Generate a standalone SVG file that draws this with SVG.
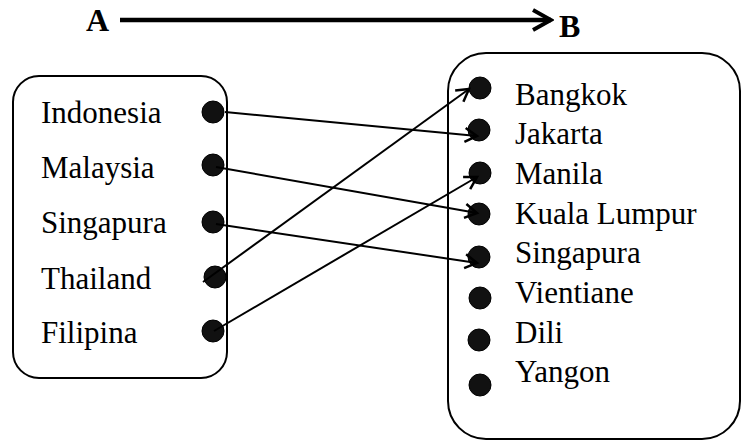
<svg xmlns="http://www.w3.org/2000/svg" width="742" height="441" viewBox="0 0 742 441">
<style>
  .box { fill: #fff; stroke: #000; stroke-width: 2; }
  .dot { fill: #111; stroke: #000; stroke-width: 1; }
  .lbl { font-family: "Liberation Serif", "Times New Roman", serif; font-size: 31px; fill: #000; }
  .hdr { font-family: "Liberation Serif", "Times New Roman", serif; font-size: 32px; font-weight: bold; fill: #000; }
  .conn { fill: none; stroke: #000; stroke-width: 2; }
</style>
<defs>
  <marker id="open" markerWidth="18" markerHeight="18" refX="15" refY="9" orient="auto" markerUnits="userSpaceOnUse">
    <path d="M3,2 L15,9 L3,16" fill="none" stroke="#000" stroke-width="2.5"/>
  </marker>
  <marker id="bigopen" markerWidth="24" markerHeight="26" refX="21" refY="13" orient="auto" markerUnits="userSpaceOnUse">
    <path d="M3,3 L21,13 L3,23" fill="none" stroke="#000" stroke-width="4"/>
  </marker>
</defs>

<g id="header">
  <text class="hdr" x="86" y="31">A</text>
  <line x1="120" y1="20" x2="551" y2="20" stroke="#000" stroke-width="4.5" marker-end="url(#bigopen)"/>
  <text class="hdr" x="559" y="37">B</text>
</g>

<g id="setA">
  <rect class="box" x="13" y="76" width="214" height="302" rx="26" ry="26"/>
  <g id="a-indonesia"><text class="lbl" x="41" y="123">Indonesia</text><ellipse class="dot" cx="213" cy="112" rx="11" ry="11"/></g>
  <g id="a-malaysia"><text class="lbl" x="41" y="178">Malaysia</text><ellipse class="dot" cx="213" cy="165" rx="11" ry="11"/></g>
  <g id="a-singapura"><text class="lbl" x="41" y="233">Singapura</text><ellipse class="dot" cx="213" cy="222" rx="11" ry="11"/></g>
  <g id="a-thailand"><text class="lbl" x="41" y="289">Thailand</text><ellipse class="dot" cx="215" cy="277" rx="11" ry="11"/></g>
  <g id="a-filipina"><text class="lbl" x="41" y="343">Filipina</text><ellipse class="dot" cx="213" cy="331" rx="11" ry="11"/></g>
</g>

<g id="setB">
  <rect class="box" x="448" y="53" width="292" height="386" rx="38" ry="38"/>
  <g id="b-bangkok"><ellipse class="dot" cx="480" cy="88" rx="11" ry="11"/><text class="lbl" x="515" y="105">Bangkok</text></g>
  <g id="b-jakarta"><ellipse class="dot" cx="479" cy="130" rx="11" ry="11"/><text class="lbl" x="515" y="144">Jakarta</text></g>
  <g id="b-manila"><ellipse class="dot" cx="480" cy="173" rx="11" ry="11"/><text class="lbl" x="515" y="184">Manila</text></g>
  <g id="b-kl"><ellipse class="dot" cx="479" cy="214" rx="11" ry="11"/><text class="lbl" x="515" y="224">Kuala Lumpur</text></g>
  <g id="b-singapura"><ellipse class="dot" cx="479" cy="257" rx="11" ry="11"/><text class="lbl" x="515" y="263">Singapura</text></g>
  <g id="b-vientiane"><ellipse class="dot" cx="480" cy="298" rx="11" ry="11"/><text class="lbl" x="515" y="303">Vientiane</text></g>
  <g id="b-dili"><ellipse class="dot" cx="479" cy="340" rx="11" ry="11"/><text class="lbl" x="515" y="343">Dili</text></g>
  <g id="b-yangon"><ellipse class="dot" cx="480" cy="385" rx="11" ry="11"/><text class="lbl" x="515" y="382">Yangon</text></g>
</g>

<g id="connectors">
  <line class="conn" x1="225" y1="112" x2="477" y2="136" marker-end="url(#open)"/>
  <line class="conn" x1="216" y1="167" x2="477" y2="213" marker-end="url(#open)"/>
  <line class="conn" x1="216" y1="224" x2="477" y2="263" marker-end="url(#open)"/>
  <line class="conn" x1="203" y1="282" x2="469" y2="89" marker-end="url(#open)"/>
  <line class="conn" x1="214" y1="331" x2="477" y2="177" marker-end="url(#open)"/>
</g>
</svg>
